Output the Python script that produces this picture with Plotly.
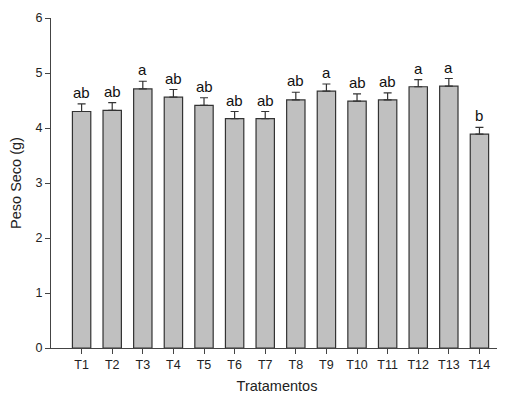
import plotly.graph_objects as go

categories = ["T1", "T2", "T3", "T4", "T5", "T6", "T7", "T8", "T9", "T10", "T11", "T12", "T13", "T14"]
values = [4.30, 4.32, 4.71, 4.56, 4.41, 4.17, 4.17, 4.51, 4.67, 4.49, 4.51, 4.75, 4.76, 3.89]
errors = [0.14, 0.14, 0.14, 0.14, 0.14, 0.13, 0.13, 0.14, 0.13, 0.13, 0.13, 0.13, 0.14, 0.12]
letters = ["ab", "ab", "a", "ab", "ab", "ab", "ab", "ab", "a", "ab", "ab", "a", "a", "b"]
y_ticks = [0, 1, 2, 3, 4, 5, 6]

FONT = "Liberation Sans, Arial, sans-serif"

fig = go.Figure()
fig.add_trace(go.Bar(
    x=list(range(len(categories))),
    y=values,
    width=0.6,
    marker=dict(color="#c0c0c0", line=dict(color="#333333", width=1.2)),
    error_y=dict(type="data", array=errors, arrayminus=[0] * len(errors),
                 symmetric=False, color="#333333", thickness=1.2, width=4),
    showlegend=False,
))

for i, (v, e, t) in enumerate(zip(values, errors, letters)):
    fig.add_annotation(x=i, y=v + e, text=t, showarrow=False,
                       yanchor="bottom", yshift=1,
                       font=dict(family=FONT, size=15, color="#111111"))

# page body has an 8px margin; size the figure to fit the 505x394 window
fig.update_layout(
    width=497, height=386,
    margin=dict(l=43, r=2, t=10, b=46),
    paper_bgcolor="white", plot_bgcolor="white",
    font=dict(family=FONT, size=12.5, color="#222222"),
    bargap=0.4,
)
fig.update_xaxes(
    range=[-1, 13.77],
    tickvals=list(range(len(categories))), ticktext=categories,
    showline=True, linecolor="#444444", linewidth=1,
    ticks="outside", ticklen=5, tickcolor="#444444",
    showgrid=False, zeroline=False,
    title=dict(text="Tratamentos", font=dict(size=14.5), standoff=10),
)
fig.update_yaxes(
    range=[0, 6],
    tickvals=y_ticks,
    showline=True, linecolor="#444444", linewidth=1,
    ticks="outside", ticklen=5, tickcolor="#444444",
    showgrid=False, zeroline=False,
    title=dict(text="Peso Seco (g)", font=dict(size=14.5), standoff=11),
)

fig.write_html("out.html")
